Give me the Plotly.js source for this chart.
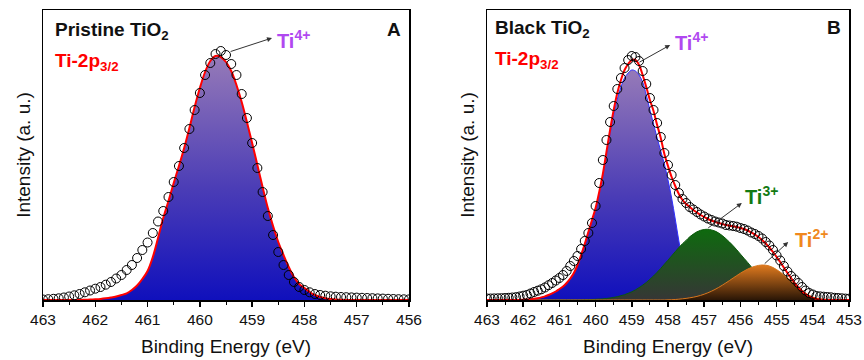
<!DOCTYPE html>
<html>
<head>
<meta charset="utf-8">
<script src="https://cdn.plot.ly/plotly-3.0.1.min.js"></script>
<style>html,body{margin:0;padding:0;background:#fff;}#chart{width:864px;height:360px;}</style>
</head>
<body>
<div id="chart"></div>
<script>
// ---------- Panel A : Pristine TiO2 ----------
const energyA = [463.0,462.9,462.8,462.7,462.6,462.5,462.4,462.3,462.2,462.1,462.0,461.9,461.8,461.7,461.6,461.5,461.4,461.3,461.2,461.1,461.0,460.9,460.8,460.7,460.6,460.5,460.4,460.3,460.2,460.1,460.0,459.9,459.8,459.7,459.6,459.5,459.4,459.3,459.2,459.1,459.0,458.9,458.8,458.7,458.6,458.5,458.4,458.3,458.2,458.1,458.0,457.9,457.8,457.7,457.6,457.5,457.4,457.3,457.2,457.1,457.0,456.9,456.8,456.7,456.6,456.5,456.4,456.3,456.2,456.1,456.0];
const measuredA = [0.5,0.8,1.2,1.7,2.5,3.5,4.7,6,7.7,9.5,11.3,13,15.3,18,21.5,25,30,35,42,50,57.5,67,78.5,89,103,118,134,152,171,190,207,225,237,246,249,245,236,225,206,182,157,132,108,84,65,48,35,25,18,13,10,7.7,6,5,4.3,3.7,3.3,3,2.8,2.6,2.4,2.2,2.0,1.8,1.6,1.4,1.2,1.0,0.8,0.7,0.6];
const fitA = [0,0,0,0,0,0,0,0,0.2,0.4,0.7,1.1,1.7,2.5,3.5,5,6.7,10,14.5,21,29,43,62,82,99,117,134,152,172,193,212,228,239,244,243,238,229,215,198,178,157,135,113,92,74,58,45,33,23,16,12,8,5,3,1.8,1,0.5,0.2,0,0,0,0,0,0,0,0,0,0,0,0,0];

// ---------- Panel B : Black TiO2 ----------
const energyB = [463.0,462.9,462.8,462.7,462.6,462.5,462.4,462.3,462.2,462.1,462.0,461.9,461.8,461.7,461.6,461.5,461.4,461.3,461.2,461.1,461.0,460.9,460.8,460.7,460.6,460.5,460.4,460.3,460.2,460.1,460.0,459.9,459.8,459.7,459.6,459.5,459.4,459.3,459.2,459.1,459.0,458.9,458.8,458.7,458.6,458.5,458.4,458.3,458.2,458.1,458.0,457.9,457.8,457.7,457.6,457.5,457.4,457.3,457.2,457.1,457.0,456.9,456.8,456.7,456.6,456.5,456.4,456.3,456.2,456.1,456.0,455.9,455.8,455.7,455.6,455.5,455.4,455.3,455.2,455.1,455.0,454.9,454.8,454.7,454.6,454.5,454.4,454.3,454.2,454.1,454.0,453.9,453.8,453.7,453.6,453.5,453.4,453.3,453.2,453.1,453.0];
const measuredB = [1.5,1.5,1.6,1.7,1.8,2.0,2.2,2.5,2.8,3.5,4.3,5.0,6.5,8.0,9.3,10.7,12.5,14.8,17,19.5,22,25,29,34,39,44,51,59,67,77,94,117,140,160,178,194,211,222,232,240,244,243,239,229,216,202,190,177,163,147,135,125,115,107,101,97,93,90.5,88,85.5,83.5,81.5,80,78.5,77.5,76.5,75,74.5,74,73.3,72,71,69.5,67.5,66,64,61.5,58,54.5,50,44.5,39.5,34,28.5,24,20.5,17,13,9.5,7,5.5,4,3.6,3.3,3,2.7,2.2,2,1.7,1.4,1.3];
const fitB = [0,0,0,0,0,0,0,0,0,0,0.3,0.5,0.8,1.2,1.8,2.6,3.6,5,6.6,8.5,11,13.5,17,21.5,27,35,45,56,68,80,92,108,126,148,170,190,207,220,230,236,240,240,235,225,213,200,189,175,162,146,134,123,114,106,100,96,93,90,87.5,85,83,81,79.5,78,77,76,75,74.3,73.7,73,72,71,69.5,67.5,65.5,63,60,56.5,52.5,48,43,38,32.5,27,22,17,12.5,9,6,3.5,2,1,0.5,0.2,0,0,0,0,0,0,0];
const ti4B = [0,0,0,0,0,0,0,0,0,0,0.3,0.5,0.8,1.2,1.8,2.6,3.6,5,6.6,8.5,11,13.5,17,21.5,27,35,45,56,68,79,91,106,124,145,166,185,201,213,222,227,230,229,225,218,205,190,176,162,149,136,120,102,81,59,40,25,14,7,3,1,0,0,0,0,0,0,0,0,0,0,0,0,0,0,0,0,0,0,0,0,0,0,0,0,0,0,0,0,0,0,0,0,0,0,0,0,0,0,0,0,0];
const ti3B = [0,0,0,0,0,0,0,0,0,0,0,0,0,0,0,0,0,0,0,0,0,0,0,0,0,0,0,0.2,0.3,0.5,0.7,0.9,1.1,1.5,2.0,2.6,3.3,4.3,5.3,6.7,8.2,10.1,12.3,14.8,17.5,20.7,24.0,27.7,31.6,35.8,39.8,44.1,48.3,52.5,56.3,59.6,63.2,65.9,68.2,69.7,70.5,70.7,70.1,68.9,67.0,64.4,61.3,57.9,54.2,50.2,45.9,41.7,37.6,33.2,29.2,25.6,22.0,18.7,15.9,13.2,10.9,9.0,7.3,5.9,4.7,3.7,2.9,2.2,1.7,1.3,0.9,0.7,0.5,0.3,0.2,0.1,0,0,0,0,0];
const ti2B = [0,0,0,0,0,0,0,0,0,0,0,0,0,0,0,0,0,0,0,0,0,0,0,0,0,0,0,0,0,0,0,0,0,0,0,0,0,0,0,0,0,0,0,0,0,0,0,0,0,0,0.2,0.3,0.5,0.8,1.2,1.6,2.2,2.8,3.6,4.6,5.8,7.2,8.8,10.6,12.6,14.8,17.1,19.5,22,24.4,26.8,28.9,30.9,32.5,33.7,34.6,35,34.8,34,32.5,30.4,27.9,25.1,22.1,19.1,16,13,10,7,4.7,3,2,1.2,0.7,0.4,0.2,0.1,0,0,0,0];

const tickValsA = [463,462,461,460,459,458,457,456];
const tickValsB = [463,462,461,460,459,458,457,456,455,454,453];

const FONT = 'Liberation Sans, Arial, sans-serif';
const purpleScale = [[0,'#1010bc'],[0.45,'#4a3cb6'],[1,'#967ab8']];

const traces = [
  // Panel A
  {x: energyA, y: fitA, xaxis:'x', yaxis:'y', mode:'lines', line:{color:'#ff0000', width:2, shape:'spline'},
   fill:'tozeroy', fillgradient:{type:'vertical', start:0, stop:244, colorscale: purpleScale}, hoverinfo:'skip'},
  {x: energyA, y: measuredA, xaxis:'x', yaxis:'y', mode:'markers',
   marker:{symbol:'circle-open', size:9, color:'#000', line:{width:1, color:'#000'}}},
  // Panel B
  {x: energyB, y: ti4B, xaxis:'x2', yaxis:'y2', mode:'lines', line:{color:'#3030ff', width:1, shape:'spline'},
   fill:'tozeroy', fillgradient:{type:'vertical', start:0, stop:230, colorscale: purpleScale}},
  {x: energyB, y: ti3B, xaxis:'x2', yaxis:'y2', mode:'lines', line:{color:'#0b5a0b', width:1, shape:'spline'},
   fill:'tozeroy', fillgradient:{type:'vertical', start:0, stop:71, colorscale:[[0,'#363636'],[1,'#0e6a0e']]}},
  {x: energyB, y: ti2B, xaxis:'x2', yaxis:'y2', mode:'lines', line:{color:'#d8761c', width:1, shape:'spline'},
   fill:'tozeroy', fillgradient:{type:'vertical', start:0, stop:35, colorscale:[[0,'#2a1606'],[1,'#e07a1e']]}},
  {x: energyB, y: fitB, xaxis:'x2', yaxis:'y2', mode:'lines', line:{color:'#ff0000', width:2, shape:'spline'}},
  {x: energyB, y: measuredB, xaxis:'x2', yaxis:'y2', mode:'markers',
   marker:{symbol:'circle-open', size:9, color:'#000', line:{width:1, color:'#000'}}}
];

function xAxis(range, ticks, domain, anchor){
  return {domain: domain, anchor: anchor, range: range, tickmode:'array', tickvals: ticks,
    ticktext: ticks.map(String), ticks:'outside', ticklen:5, tickwidth:1.5, tickcolor:'#000',
    minor:{tickvals: ticks.slice(0,-1).map(v=>v-0.5), ticks:'outside', ticklen:3, tickwidth:1, tickcolor:'#000'},
    showline:true, linecolor:'#000', linewidth:1.5, mirror:true, showgrid:false, zeroline:false,
    tickfont:{family:FONT, size:15.5, color:'#111'},
    title:{text:'Binding Energy (eV)', font:{family:FONT, size:19, color:'#111'}, standoff:12}};
}
function yAxis(domain, anchor){
  return {domain: domain, anchor: anchor, range:[0,290], showticklabels:false, ticks:'',
    showline:true, linecolor:'#000', linewidth:1.5, mirror:true, showgrid:false, zeroline:false,
    title:{text:'Intensity (a. u.)', font:{family:FONT, size:19, color:'#111'}, standoff:6}};
}

const W = 864, H = 360;
const px = v => v / W, py = v => 1 - v / H;
function label(text, x, y, color, anchor, size){
  return {text: text, xref:'paper', yref:'paper', x: px(x), y: py(y), xanchor: anchor || 'left', yanchor:'middle',
    showarrow:false, font:{family:FONT, size: size || 19, color: color}};
}
function arrow(xr, yr, x, y, ax, ay){
  return {text:'', xref:xr, yref:yr, axref:xr, ayref:yr, x:x, y:y, ax:ax, ay:ay, showarrow:true,
    arrowhead:2, arrowsize:1, arrowwidth:1, arrowcolor:'#333'};
}

const layout = {
  width: W, height: H, margin:{l:0, r:0, t:0, b:0}, showlegend:false,
  paper_bgcolor:'#fff', plot_bgcolor:'#fff',
  xaxis: xAxis([463,456], tickValsA, [px(43), px(409)], 'y'),
  yaxis: yAxis([1-300/H, 1-10/H], 'x'),
  xaxis2: xAxis([463,453], tickValsB, [px(487), px(849)], 'y2'),
  yaxis2: yAxis([1-300/H, 1-10/H], 'x2'),
  annotations: [
    label('<b>Pristine TiO<sub>2</sub></b>', 53, 31, '#111'),
    label('<b>Ti-2p<sub>3/2</sub></b>', 53, 62, '#ff0000'),
    label('<b>A</b>', 394, 29, '#111', 'center'),
    label('<b>Ti<sup>4+</sup></b>', 275, 39, '#b048f0', 'left', 20),
    arrow('x','y', 458.62, 262, 459.44, 248),
    label('<b>Black TiO<sub>2</sub></b>', 493, 29, '#111'),
    label('<b>Ti-2p<sub>3/2</sub></b>', 493, 60, '#ff0000'),
    label('<b>B</b>', 834, 28, '#111', 'center'),
    label('<b>Ti<sup>4+</sup></b>', 673, 41, '#b048f0', 'left', 20),
    arrow('x2','y2', 457.94, 255, 458.83, 237),
    label('<b>Ti<sup>3+</sup></b>', 743, 196, '#137a13', 'left', 20),
    arrow('x2','y2', 455.96, 97, 456.93, 71),
    label('<b>Ti<sup>2+</sup></b>', 793, 238, '#f0881e', 'left', 20),
    arrow('x2','y2', 454.68, 58, 455.37, 35)
  ]
};

Plotly.newPlot('chart', traces, layout, {displayModeBar:false, staticPlot:true});
</script>
</body>
</html>
